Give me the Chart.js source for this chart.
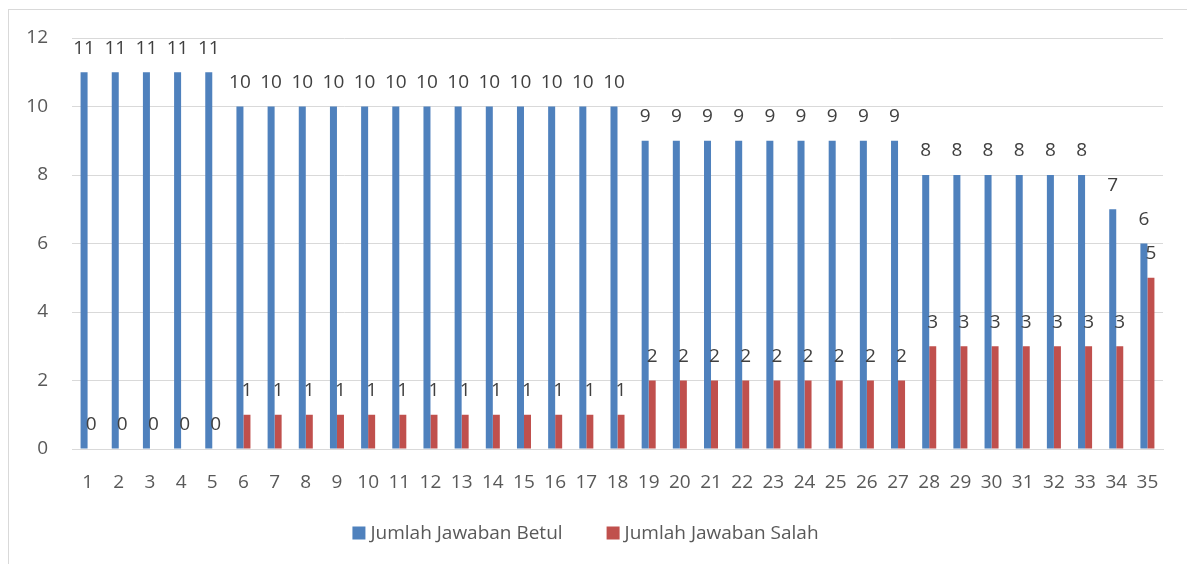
<!DOCTYPE html>
<html>
<head>
<meta charset="utf-8">
<script src="https://cdn.jsdelivr.net/npm/chart.js@4.4.1/dist/chart.umd.min.js"></script>
<style>
  html, body { margin: 0; padding: 0; background: #fff; }
  #wrap { width: 1187px; height: 564px; position: relative; }
</style>
</head>
<body>
<div id="wrap"><canvas id="graph" width="1187" height="564"></canvas></div>
<script>
var labels = [];
for (var i = 1; i <= 35; i++) labels.push(String(i));

var betul = [11, 11, 11, 11, 11,
             10, 10, 10, 10, 10, 10, 10, 10, 10, 10, 10, 10, 10,
             9, 9, 9, 9, 9, 9, 9, 9, 9,
             8, 8, 8, 8, 8, 8,
             7, 6];
var salah = [0, 0, 0, 0, 0,
             1, 1, 1, 1, 1, 1, 1, 1, 1, 1, 1, 1, 1,
             2, 2, 2, 2, 2, 2, 2, 2, 2,
             3, 3, 3, 3, 3, 3,
             3, 5];
var yTicks = [0, 2, 4, 6, 8, 10, 12];

var FONT = "'Open Sans', sans-serif";
var TEXT = '#595959';
var SIZE = 19;

// label di atas batang
var valueLabels = {
  id: 'valueLabels',
  afterDatasetsDraw: function(chart) {
    var ctx = chart.ctx;
    ctx.save();
    ctx.font = SIZE + 'px ' + FONT;
    ctx.fillStyle = '#404040';
    ctx.textAlign = 'center';
    ctx.textBaseline = 'middle';
    chart.data.datasets.forEach(function(ds, di) {
      var meta = chart.getDatasetMeta(di);
      meta.data.forEach(function(bar, j) {
        ctx.fillText(String(ds.data[j]), bar.x, bar.y - 24);
      });
    });
    ctx.restore();
  }
};

// bingkai dan legenda
var frame = {
  id: 'frame',
  beforeDraw: function(chart) {
    var ctx = chart.ctx;
    ctx.save();
    ctx.strokeStyle = '#d9d9d9';
    ctx.lineWidth = 1;
    ctx.strokeRect(8.5, 9.5, 1300, 700);
    ctx.restore();
  },
  afterDraw: function(chart) {
    var ctx = chart.ctx;
    ctx.save();
    ctx.font = SIZE + 'px ' + FONT;
    ctx.textBaseline = 'middle';
    var items = chart.data.datasets;
    var box = 13, gap = 5, space = 44;
    var total = 0;
    items.forEach(function(ds, i) {
      total += box + gap + ctx.measureText(ds.label).width;
      if (i < items.length - 1) total += space;
    });
    var x = (chart.width - total) / 2 - 8;
    var y = 533;
    items.forEach(function(ds) {
      ctx.fillStyle = ds.backgroundColor;
      ctx.fillRect(x, y - box / 2, box, box);
      x += box + gap;
      ctx.fillStyle = TEXT;
      ctx.fillText(ds.label, x, y + 1);
      x += ctx.measureText(ds.label).width + space;
    });
    ctx.restore();
  }
};

new Chart(document.getElementById('graph').getContext('2d'), {
  type: 'bar',
  data: {
    labels: labels,
    datasets: [
      { label: 'Jumlah Jawaban Betul', data: betul, backgroundColor: '#4f81bd',
        categoryPercentage: 0.45, barPercentage: 1.0 },
      { label: 'Jumlah Jawaban Salah', data: salah, backgroundColor: '#c0504d',
        categoryPercentage: 0.45, barPercentage: 1.0 }
    ]
  },
  options: {
    responsive: false,
    animation: false,
    layout: { padding: { left: 0, right: 24, top: 38, bottom: 50 } },
    plugins: {
      legend: { display: false },
      tooltip: { enabled: false }
    },
    scales: {
      x: {
        grid: { display: false },
        border: { color: '#d9d9d9', width: 1 },
        ticks: { color: TEXT, font: { family: FONT, size: SIZE }, padding: 14, maxRotation: 0, autoSkip: false },
        afterFit: function(s) { s.height = 65; }
      },
      y: {
        min: 0, max: 12,
        afterBuildTicks: function(s) { s.ticks = yTicks.map(function(v) { return { value: v }; }); },
        grid: { color: '#d9d9d9', lineWidth: 1, drawTicks: false },
        border: { display: false },
        ticks: { color: TEXT, font: { family: FONT, size: SIZE }, padding: 24 },
        afterFit: function(s) { s.width = 72; }
      }
    }
  },
  plugins: [valueLabels, frame]
});
</script>
</body>
</html>
